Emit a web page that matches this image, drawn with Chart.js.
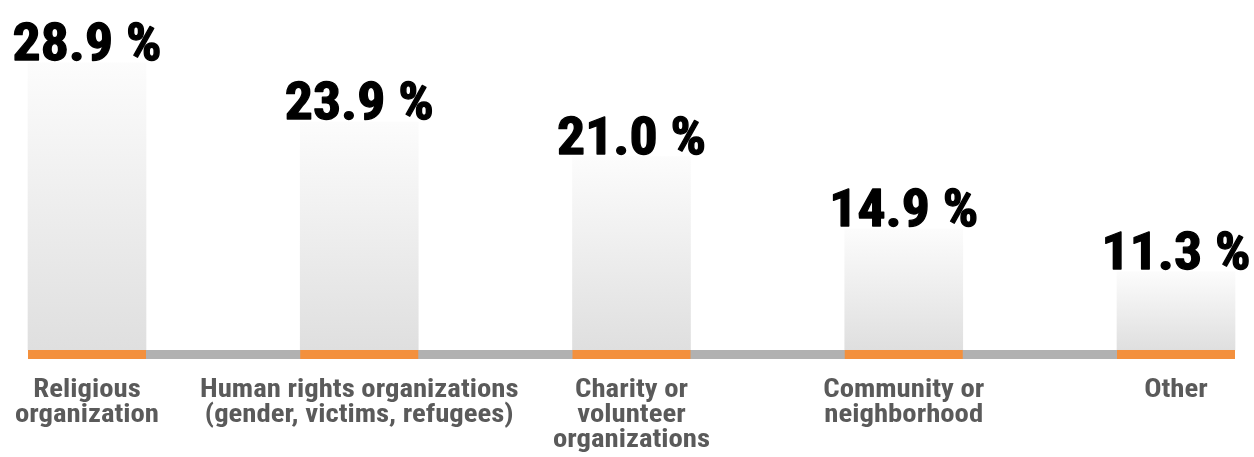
<!DOCTYPE html>
<html>
<head>
<meta charset="utf-8">
<script src="https://cdn.jsdelivr.net/npm/chart.js@4/dist/chart.umd.min.js"></script>
<style>
  html, body { margin: 0; padding: 0; background: #ffffff; }
  #wrap { width: 1254px; height: 457px; position: relative; }
</style>
</head>
<body>
<div id="wrap"><canvas id="chart"></canvas></div>
<script>
// Share of respondents by type of organization
const categories = [
  ["Religious", "organization"],
  ["Human rights organizations", "(gender, victims, refugees)"],
  ["Charity or", "volunteer", "organizations"],
  ["Community or", "neighborhood"],
  ["Other"]
];
const shares = [28.9, 23.9, 21.0, 14.9, 11.3];

const NARROW = '"Roboto Condensed", "Liberation Sans Narrow", "DejaVu Sans Condensed", "Liberation Sans", sans-serif';
const BASE_H = 9;
const Y_MIN = 4.7;

function formatShare(v) {
  return v.toFixed(1) + ' %';
}

// Fade each bar from near-white at its top to light gray at its base
function barGradient(context) {
  const chart = context.chart;
  const yScale = chart.scales.y;
  if (!yScale || context.dataIndex === undefined) return '#e6e6e6';
  const top = yScale.getPixelForValue(shares[context.dataIndex]);
  const bottom = yScale.bottom;
  if (!isFinite(top) || !isFinite(bottom)) return '#e6e6e6';
  const g = chart.ctx.createLinearGradient(0, top, 0, bottom);
  g.addColorStop(0, '#fcfcfc');
  g.addColorStop(1, '#dfdfdf');
  return g;
}

// Text drawn slightly widened horizontally around (x, y)
function wideText(ctx, text, x, y, sx, stroke) {
  ctx.save();
  ctx.translate(x, y);
  ctx.scale(sx, 1);
  if (stroke) ctx.strokeText(text, 0, 0);
  ctx.fillText(text, 0, 0);
  ctx.restore();
}

// Baseline strip (gray run with orange under each bar), value labels and category names
const baseAndLabels = {
  id: 'baseAndLabels',
  afterDatasetsDraw(chart) {
    const ctx = chart.ctx;
    const bars = chart.getDatasetMeta(0).data;
    const xScale = chart.scales.x;
    const base = chart.scales.y.bottom;
    const first = bars[0];
    const last = bars[bars.length - 1];
    const x0 = first.x - first.width / 2;
    const x1 = last.x + last.width / 2;
    ctx.save();
    ctx.fillStyle = '#b1b1b1';
    ctx.fillRect(x0, base, x1 - x0, BASE_H);
    ctx.fillStyle = '#f3903d';
    bars.forEach(b => ctx.fillRect(b.x - b.width / 2, base, b.width, BASE_H));

    // value labels sitting on each bar
    ctx.fillStyle = '#000000';
    ctx.strokeStyle = '#000000';
    ctx.lineWidth = 1.3;
    ctx.lineJoin = 'round';
    ctx.font = 'bold 52px ' + NARROW;
    ctx.textAlign = 'center';
    ctx.textBaseline = 'alphabetic';
    bars.forEach((b, i) => wideText(ctx, formatShare(shares[i]), b.x, b.y - 3, 1.07, true));

    // category names under the axis
    ctx.fillStyle = '#5a5a5a';
    ctx.font = 'bold 25px ' + NARROW;
    categories.forEach((lines, i) => {
      const cx = xScale.getPixelForTick(i);
      lines.forEach((line, k) => wideText(ctx, line, cx, base + 47 + k * 25, 1.15, false));
    });
    ctx.restore();
  }
};

new Chart(document.getElementById('chart'), {
  type: 'bar',
  data: {
    labels: categories,
    datasets: [{
      data: shares,
      base: Y_MIN,
      backgroundColor: barGradient,
      borderWidth: 0,
      barThickness: 118,
      clip: false
    }]
  },
  options: {
    responsive: true,
    maintainAspectRatio: false,
    animation: false,
    events: [],
    layout: { padding: { left: 87, right: 78, top: 0, bottom: 0 } },
    plugins: {
      legend: { display: false },
      tooltip: { enabled: false }
    },
    scales: {
      x: {
        offset: false,
        grid: { display: false, drawTicks: false },
        border: { display: false },
        afterFit(scale) { scale.height = 107; },
        ticks: { display: false, autoSkip: false, maxRotation: 0 }
      },
      y: {
        display: false,
        min: Y_MIN,
        max: 34.2
      }
    }
  },
  plugins: [baseAndLabels]
});
</script>
</body>
</html>
